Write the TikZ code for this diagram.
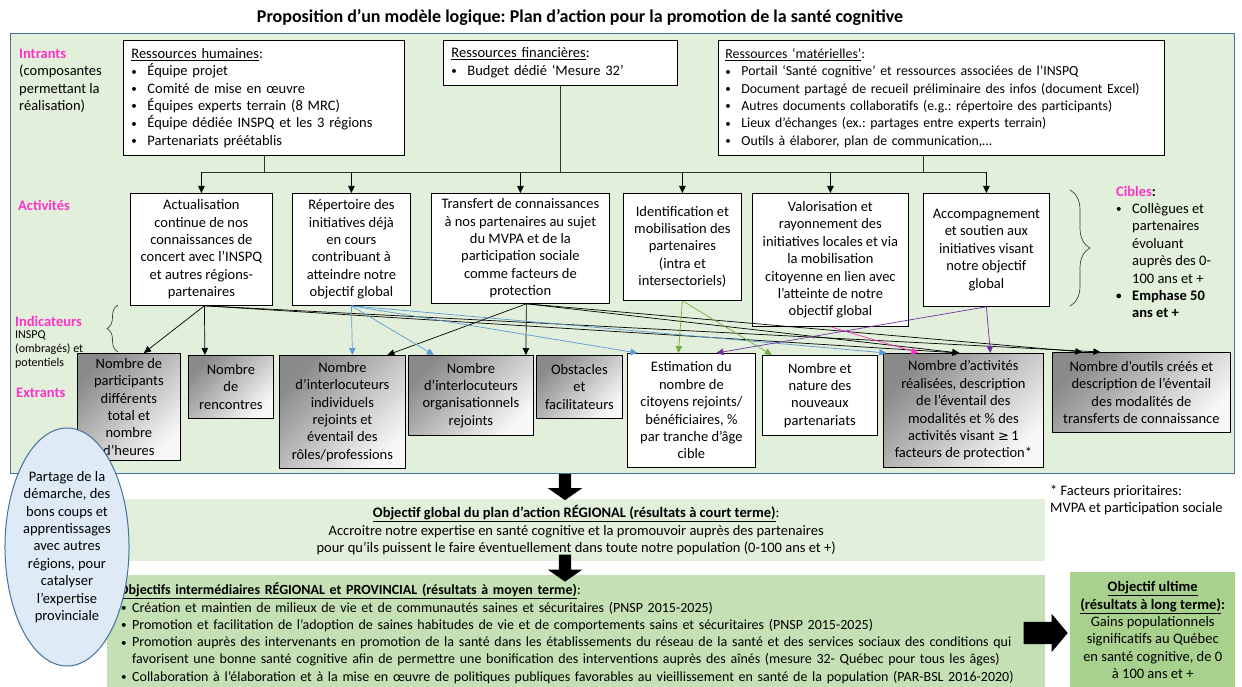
\documentclass[tikz,border=0pt]{standalone}
\usepackage{fontspec}
\setmainfont{Carlito}
\newfontfamily\symbole{DejaVu Sans}
\usetikzlibrary{arrows.meta,shapes.geometric,shapes.arrows,decorations.pathreplacing}
\frenchspacing

\definecolor{rose}{RGB}{255,51,204}
\definecolor{vertpale}{RGB}{226,239,218}
\definecolor{vertmoyen}{RGB}{197,224,180}
\definecolor{vertfonce}{RGB}{169,209,142}
\definecolor{bordbleu}{RGB}{65,113,156}
\definecolor{bleupale}{RGB}{222,235,247}
\definecolor{traitbleu}{RGB}{91,155,213}
\definecolor{traitvert}{RGB}{112,173,71}
\definecolor{traitviolet}{RGB}{112,48,160}

\newcommand{\puce}[1][16pt]{\makebox[#1][l]{\raisebox{0.6pt}{\fontsize{11}{11}\selectfont\textbullet}}}

\begin{document}
\begin{tikzpicture}[x=1pt, y=-1pt,
    font=\fontsize{14.5}{17.4}\selectfont,
    boite/.style={draw, fill=white, line width=0.8pt, inner sep=0pt, align=center, anchor=north west},
    ombre/.style={boite, top color=black!46, bottom color=black!3, shading angle=45},
    etiquette/.style={text=rose, font=\fontsize{14.5}{17.4}\selectfont\bfseries, inner sep=0pt, anchor=west},
    lien/.style={line width=0.7pt, -{Triangle[length=7pt, width=6.5pt]}},
    bande/.style={inner sep=0pt, anchor=north west, minimum width=938pt},
    grosse/.style={single arrow, fill=black, inner sep=6pt, single arrow head extend=11pt, single arrow tip angle=110},
    accolade/.style={decorate, decoration={brace, amplitude=#1}, line width=0.7pt, black!75}
  ]
    \useasboundingbox (0,0) rectangle (1242,687);

    % 枠を描く
    \node[draw=bordbleu, fill=vertpale, line width=1.2pt, minimum width=1224pt, minimum height=440pt, anchor=north west, inner sep=0pt] (cadre) at (10,33) {};
    \node[font=\fontsize{18}{21}\selectfont\bfseries] (titre) at (580,17) {Proposition d’un modèle logique: Plan d’action pour la promotion de la santé cognitive};

    % 見出しを入れる
    \node[inner sep=0pt, anchor=west, align=left] (intrants) at (19,81) {\textcolor{rose}{\textbf{Intrants}}\\(composantes\\permettant la\\réalisation)};
    \node[etiquette] (activites) at (18,205) {Activités};
    \node[etiquette] (indicateurs) at (15,321) {Indicateurs};
    \node[inner sep=0pt, anchor=west, align=left, font=\fontsize{12}{14}\selectfont] (inspq) at (15,350) {INSPQ\\(ombragés) et\\potentiels};
    \node[etiquette] (extrants) at (16,393) {Extrants};

    % 資源の箱
    \node[boite, align=left, minimum width=281pt, minimum height=115pt, text width=265pt] (rh) at (123,40) {\underline{Ressources humaines}:\\
      \puce Équipe projet\\
      \puce Comité de mise en œuvre\\
      \puce Équipes experts terrain (8 MRC)\\
      \puce Équipe dédiée INSPQ et les 3 régions\\
      \puce Partenariats préétablis};
    \node[boite, align=left, minimum width=234pt, minimum height=45pt, text width=218pt] (rf) at (443,40) {\underline{Ressources financières}:\\
      \puce Budget dédié ‘Mesure 32’};
    \node[boite, align=left, minimum width=446pt, minimum height=115pt, text width=432pt, font=\fontsize{13.8}{17.4}\selectfont] (rm) at (718,40) {\underline{Ressources ‘matérielles’}:\\
      \puce Portail ‘Santé cognitive’ et ressources associées de l’INSPQ\\
      \puce Document partagé de recueil préliminaire des infos (document Excel)\\
      \puce Autres documents collaboratifs (e.g.: répertoire des participants)\\
      \puce Lieux d’échanges (ex.: partages entre experts terrain)\\
      \puce Outils à élaborer, plan de communication,…};

    % 活動の箱
    \node[boite, minimum width=142pt, minimum height=112pt] (a1) at (130,193) {Actualisation\\continue de nos\\connaissances de\\concert avec l’INSPQ\\et autres régions-\\partenaires};
    \node[boite, minimum width=118pt, minimum height=112pt] (a2) at (292,193) {Répertoire des\\initiatives déjà\\en cours\\contribuant à\\atteindre notre\\objectif global};
    \node[boite, minimum width=178pt, minimum height=110pt] (a3) at (431,193) {Transfert de connaissances\\à nos partenaires au sujet\\du MVPA et de la\\participation sociale\\comme facteurs de\\protection};
    \node[boite, minimum width=118pt, minimum height=107pt] (a4) at (623,193) {Identification et\\mobilisation des\\partenaires\\(intra et\\intersectoriels)};
    \node[boite, minimum width=156pt, minimum height=133pt] (a5) at (752,193) {Valorisation et\\rayonnement des\\initiatives locales et via\\la mobilisation\\citoyenne en lien avec\\l’atteinte de notre\\objectif global};
    \node[boite, minimum width=126pt, minimum height=113pt] (a6) at (923,193) {Accompagnement\\et soutien aux\\initiatives visant\\notre objectif\\global};

    % 線を引く
    \coordinate (bus) at (201,172);
    \draw[black!80, line width=0.8pt] (bus) -- (a6.north |- bus);
    \draw[black!80, line width=0.8pt] (rh.south) -- (rh.south |- bus);
    \draw[black!80, line width=0.8pt] (rf.south) -- (rf.south |- bus);
    \draw[black!80, line width=0.8pt] ([xshift=-18pt]rm.south) -- ([xshift=-18pt]rm.south |- bus);
    \foreach \a in {a1,a2,a3,a4,a5,a6}
      \draw[lien] (\a.north |- bus) -- (\a.north);

    % 指標の箱
    \node[ombre, minimum width=103pt, minimum height=107pt] (e1) at (77,353) {Nombre de\\participants\\différents\\total et\\nombre\\d’heures};
    \node[ombre, minimum width=85pt, minimum height=63pt] (e2) at (188,355) {Nombre\\de\\rencontres};
    \node[ombre, minimum width=126pt, minimum height=113pt] (e3) at (279,355) {Nombre\\d’interlocuteurs\\individuels\\rejoints et\\éventail des\\rôles/professions};
    \node[ombre, minimum width=125pt, minimum height=80pt] (e4) at (408,355) {Nombre\\d’interlocuteurs\\organisationnels\\rejoints};
    \node[ombre, minimum width=86pt, minimum height=63pt] (e5) at (536,355) {Obstacles\\et\\facilitateurs};
    \node[boite, minimum width=128pt, minimum height=114pt] (e6) at (627,353) {Estimation du\\nombre de\\citoyens rejoints/\\bénéficiaires, \%\\par tranche d’âge\\cible};
    \node[boite, minimum width=115pt, minimum height=80pt] (e7) at (762,355) {Nombre et\\nature des\\nouveaux\\partenariats};
    \node[ombre, minimum width=160pt, minimum height=114pt] (e8) at (883,353) {Nombre d’activités\\réalisées, description\\de l’éventail des\\modalités et \% des\\activités visant {\symbole\fontsize{13}{17.4}\selectfont ≥}\,1\\facteurs de protection*};
    \node[ombre, minimum width=178pt, minimum height=80pt] (e9) at (1052,352) {Nombre d’outils créés et\\description de l’éventail\\des modalités de\\transferts de connaissance};

    % 矢印を引く
    \draw[lien] ([xshift=3pt]a1.south) -- ([xshift=15pt]e1.north);
    \draw[lien] ([xshift=3pt]a1.south) -- ([xshift=-26pt]e2.north);
    \draw[lien] ([xshift=3pt]a1.south) -- ([xshift=-4pt]e8.north);
    \draw[lien] ([xshift=3pt]a1.south) -- ([xshift=-41pt]e9.north);
    \draw[lien] ([xshift=6pt]a3.south) -- ([xshift=45pt]e3.north);
    \draw[lien] ([xshift=6pt]a3.south) -- ([xshift=55pt]e4.north);
    \draw[lien] ([xshift=6pt]a3.south) -- ([xshift=-4pt]e8.north);
    \draw[lien] ([xshift=6pt]a3.south) -- ([xshift=-59pt]e9.north);
    \draw[lien, traitbleu] (a2.south) -- ([xshift=10pt]e3.north);
    \draw[lien, traitbleu] (a2.south) -- ([xshift=-37pt]e4.north);
    \draw[lien, traitbleu] (a2.south) -- ([xshift=-54pt]e6.north);
    \draw[lien, traitbleu] (a2.south) -- ([xshift=-77pt]e8.north);
    \draw[lien, traitvert] (a4.south) -- ([xshift=-13pt]e6.north);
    \draw[lien, traitvert] (a4.south) -- ([xshift=-48pt]e7.north);
    \draw[lien, rose] (a5.south) -- ([xshift=-45pt]e8.north);
    \draw[lien, traitviolet] (a6.south) -- ([xshift=25pt]e6.north);
    \draw[lien, traitviolet] (a6.south) -- ([xshift=27pt]e8.north);

    % 括弧と対象
    \coordinate (acc1) at (1070,190);
    \coordinate (acc2) at (1070,306);
    \draw[accolade=20pt] (acc1) -- (acc2);
    \coordinate (acc3) at (118,352);
    \coordinate (acc4) at (118,305);
    \draw[accolade=11pt] (acc3) -- (acc4);
    \node[inner sep=0pt, anchor=west, align=left] (cibles) at (1116,252) {\textbf{\textcolor{rose}{Cibles}:}\\
      \puce Collègues et\\
      \hspace*{16pt}partenaires\\
      \hspace*{16pt}évoluant\\
      \hspace*{16pt}auprès des 0-\\
      \hspace*{16pt}100 ans et +\\
      \textbf{\puce Emphase 50}\\
      \hspace*{16pt}\textbf{ans et +}};

    % 目標
    \node[bande, fill=vertpale, minimum height=62pt, align=center] (global) at (107,499) {\underline{\textbf{Objectif global du plan d’action RÉGIONAL (résultats à court terme)}}:\\
      Accroitre notre expertise en santé cognitive et la promouvoir auprès des partenaires\\
      pour qu’ils puissent le faire éventuellement dans toute notre population (0-100 ans et +)};
    \node[bande, fill=vertmoyen, minimum height=116pt, align=left, text width=914pt, font=\fontsize{14}{17.3}\selectfont] (moyen) at (107,575) {\underline{\textbf{Objectifs intermédiaires RÉGIONAL et PROVINCIAL (résultats à moyen terme)}}:\\
      \hspace*{2pt}\puce[11pt]Création et maintien de milieux de vie et de communautés saines et sécuritaires (PNSP 2015-2025)\\
      \hspace*{2pt}\puce[11pt]Promotion et facilitation de l’adoption de saines habitudes de vie et de comportements sains et sécuritaires (PNSP 2015-2025)\\
      \hspace*{2pt}\puce[11pt]Promotion auprès des intervenants en promotion de la santé dans les établissements du réseau de la santé et des services sociaux des conditions qui\\
      \hspace*{13pt}favorisent une bonne santé cognitive afin de permettre une bonification des interventions auprès des aînés (mesure 32- Québec pour tous les âges)\\
      \hspace*{2pt}\puce[11pt]Collaboration à l’élaboration et à la mise en œuvre de politiques publiques favorables au vieillissement en santé de la population (PAR-BSL 2016-2020)};
    \node[fill=vertfonce, inner sep=0pt, anchor=north west, minimum width=165pt, minimum height=116pt, align=center] (ultime) at (1070,572) {\underline{\textbf{Objectif ultime}}\\
      \underline{\textbf{(résultats à long terme)}}\textbf{:}\\
      Gains populationnels\\
      significatifs au Québec\\
      en santé cognitive, de 0\\
      à 100 ans et +};
    \node[inner sep=0pt, anchor=west, align=left] (note) at (1050,500) {* Facteurs prioritaires:\\MVPA et participation sociale};

    % 太い矢印
    \node[grosse, rotate=-90, minimum height=26pt] (fleche1) at (565,485) {};
    \node[grosse, rotate=-90, minimum height=27pt] (fleche2) at (565,566) {};
    \node[grosse, inner sep=11pt, single arrow head extend=8pt, single arrow tip angle=100, minimum height=44pt] (fleche3) at (1041,633) {};

    % 楕円
    \node[ellipse, draw=bordbleu, fill=bleupale, line width=1pt, minimum width=110pt, minimum height=238pt, inner sep=0pt, align=center] (partage) at (67,547) {Partage de la\\démarche, des\\bons coups et\\apprentissages\\avec autres\\régions, pour\\catalyser\\l’expertise\\provinciale};

  \end{tikzpicture}
\end{document}
